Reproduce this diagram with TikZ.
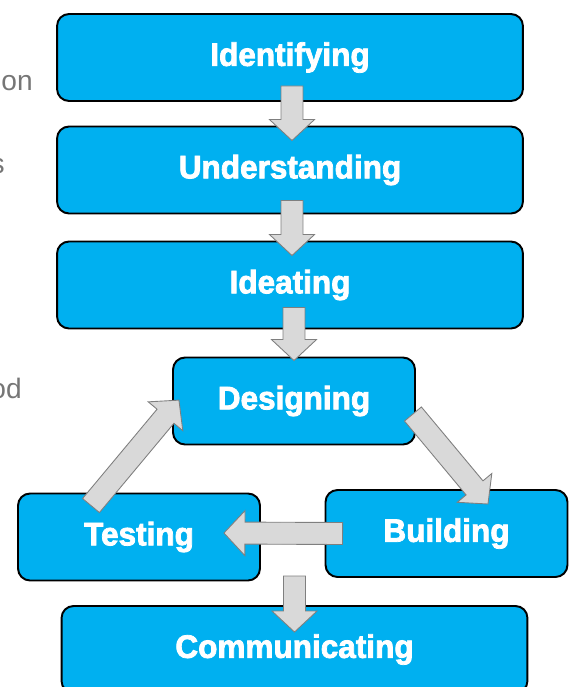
\documentclass[tikz,border=0pt]{standalone}
\usepackage{fontspec}
\setmainfont{Liberation Sans}
\newfontfamily\labelfont[FakeBold=2.4, FakeStretch=0.97]{Liberation Sans Bold}
\usetikzlibrary{calc}

\definecolor{stepblue}{HTML}{00B0F0}
\definecolor{arrowgray}{HTML}{D9D9D9}
\definecolor{arrowline}{HTML}{7F7F7F}
\definecolor{sidegray}{HTML}{767676}

% block arrow sizes
\newcommand{\shafthw}{0.22cm}
\newcommand{\headhw}{0.45cm}
\newcommand{\headlen}{0.42cm}

% block arrow from #1 to #2 (calc coordinates)
\newcommand{\blockarrow}[2]{%
	\draw[arrowbox] let \p1=(#1), \p2=(#2),
		\n1={atan2(\y2-\y1,\x2-\x1)}, \n2={veclen(\x2-\x1,\y2-\y1)} in
		[shift={(\p1)}, rotate=\n1]
		(0pt,-\shafthw) -- (\n2-\headlen,-\shafthw) -- (\n2-\headlen,-\headhw)
		-- (\n2,0pt) -- (\n2-\headlen,\headhw) -- (\n2-\headlen,\shafthw)
		-- (0pt,\shafthw) -- cycle;}

\begin{document}
\begin{tikzpicture}[x=0.02cm, y=-0.02cm,
	stage/.style={draw=black, line width=1.1pt, fill=stepblue, rounded corners=0.24cm,
		minimum height=1.74cm, inner sep=0pt, text=white,
		font=\labelfont\fontsize{18.5}{20}\selectfont},
	widestage/.style={stage, minimum width=9.32cm},
	smallstage/.style={stage, minimum width=4.84cm},
	arrowbox/.style={fill=arrowgray, draw=arrowline, line width=0.5pt},
	side/.style={text=sidegray, font=\fontsize{16}{18}\selectfont, anchor=base east, inner sep=0pt}]
	\useasboundingbox (0,0) rectangle (569,687);
	\clip (0,0) rectangle (569,687);

	%cut off slide text:
	\node[side] (on) at (33,90) {on};
	\node[side] (s) at (5,173) {s};
	\node[side] (od) at (22,398) {od};

	%stages:
	\node[widestage] (ident) at (290,57.5) {Identifying};
	\node[widestage] (under) at (290,170) {Understanding};
	\node[widestage] (ideat) at (290,285) {Ideating};
	\node[smallstage] (design) at (294,401) {Designing};
	\node[smallstage] (test) at (139,537) {Testing};
	\node[smallstage] (build) at (446.5,533.5) {Building};
	\node[widestage] (comm) at (294.5,649.5) {Communicating};

	%arrows:
	\blockarrow{$(ident.south)+(2,-16)$}{$(under.north)+(2,15)$}
	\blockarrow{$(under.south)+(2,-14)$}{$(ideat.north)+(2,15)$}
	\blockarrow{$(ideat.south)+(4,-22)$}{$(design.north)+(0,4)$}
	\blockarrow{$(design.east)+(-3,13)$}{$(build.north)+(41.5,15)$}
	\blockarrow{$(build.west)+(18,0)$}{$(test.east)+(-37,-4)$}
	\blockarrow{$(test.north)+(-48,13)$}{$(design.west)+(7,-1)$}
	\blockarrow{$(comm.north)+(0,-29)$}{$(comm.north)+(0,27)$}

\end{tikzpicture}
\end{document}
